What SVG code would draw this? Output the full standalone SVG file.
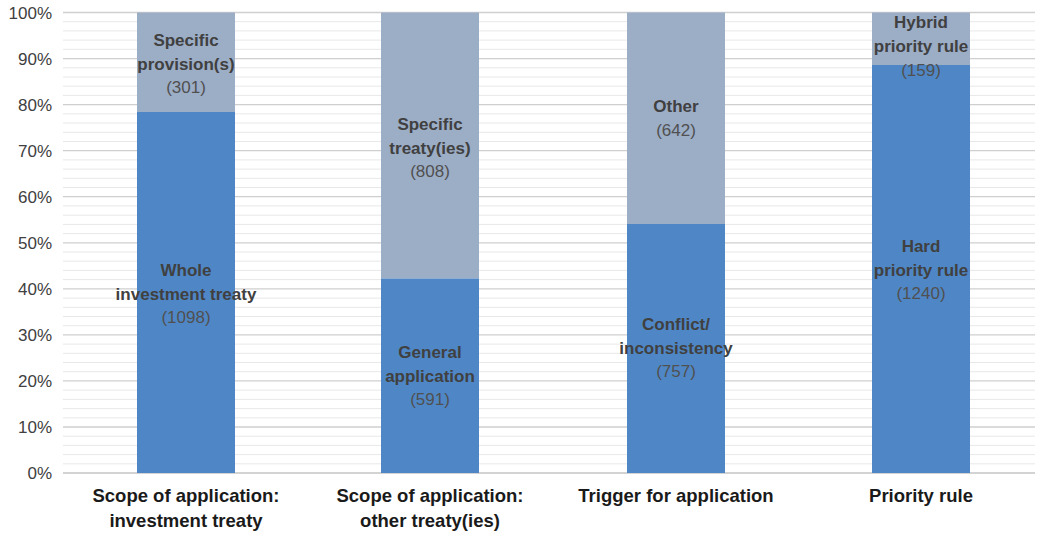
<svg xmlns="http://www.w3.org/2000/svg" width="1041" height="536" viewBox="0 0 1041 536">
<style>
.minor{stroke:#e8e8e8;stroke-width:1}
.major{stroke:#cfcfcf;stroke-width:1.3}
.tick{font-family:"Liberation Sans",Arial,sans-serif;font-size:17px;fill:#404040;text-anchor:end}
.cat{font-family:"Liberation Sans",Arial,sans-serif;font-size:18.5px;font-weight:bold;fill:#1a1a1a;text-anchor:middle}
.lbl{font-family:"Liberation Sans",Arial,sans-serif;font-size:17px;font-weight:bold;fill:#404040;text-anchor:middle}
.num{font-family:"Liberation Sans",Arial,sans-serif;font-size:17px;fill:#505050;text-anchor:middle}
.lo{fill:#4f87c6}
.up{fill:#9cadc6}
</style>
<rect width="1041" height="536" fill="#ffffff"/>
<g id="grid">
<g id="minor-lines">
<line class="minor" x1="63" x2="1035" y1="21.7" y2="21.7"/><line class="minor" x1="63" x2="1035" y1="30.9" y2="30.9"/><line class="minor" x1="63" x2="1035" y1="40.1" y2="40.1"/><line class="minor" x1="63" x2="1035" y1="49.3" y2="49.3"/>
<line class="minor" x1="63" x2="1035" y1="67.8" y2="67.8"/><line class="minor" x1="63" x2="1035" y1="77" y2="77"/><line class="minor" x1="63" x2="1035" y1="86.2" y2="86.2"/><line class="minor" x1="63" x2="1035" y1="95.4" y2="95.4"/>
<line class="minor" x1="63" x2="1035" y1="113.8" y2="113.8"/><line class="minor" x1="63" x2="1035" y1="123" y2="123"/><line class="minor" x1="63" x2="1035" y1="132.3" y2="132.3"/><line class="minor" x1="63" x2="1035" y1="141.5" y2="141.5"/>
<line class="minor" x1="63" x2="1035" y1="159.9" y2="159.9"/><line class="minor" x1="63" x2="1035" y1="169.1" y2="169.1"/><line class="minor" x1="63" x2="1035" y1="178.3" y2="178.3"/><line class="minor" x1="63" x2="1035" y1="187.5" y2="187.5"/>
<line class="minor" x1="63" x2="1035" y1="205.9" y2="205.9"/><line class="minor" x1="63" x2="1035" y1="215.2" y2="215.2"/><line class="minor" x1="63" x2="1035" y1="224.4" y2="224.4"/><line class="minor" x1="63" x2="1035" y1="233.6" y2="233.6"/>
<line class="minor" x1="63" x2="1035" y1="252" y2="252"/><line class="minor" x1="63" x2="1035" y1="261.2" y2="261.2"/><line class="minor" x1="63" x2="1035" y1="270.4" y2="270.4"/><line class="minor" x1="63" x2="1035" y1="279.6" y2="279.6"/>
<line class="minor" x1="63" x2="1035" y1="298.1" y2="298.1"/><line class="minor" x1="63" x2="1035" y1="307.3" y2="307.3"/><line class="minor" x1="63" x2="1035" y1="316.5" y2="316.5"/><line class="minor" x1="63" x2="1035" y1="325.7" y2="325.7"/>
<line class="minor" x1="63" x2="1035" y1="344.1" y2="344.1"/><line class="minor" x1="63" x2="1035" y1="353.3" y2="353.3"/><line class="minor" x1="63" x2="1035" y1="362.5" y2="362.5"/><line class="minor" x1="63" x2="1035" y1="371.7" y2="371.7"/>
<line class="minor" x1="63" x2="1035" y1="390.1" y2="390.1"/><line class="minor" x1="63" x2="1035" y1="399.4" y2="399.4"/><line class="minor" x1="63" x2="1035" y1="408.6" y2="408.6"/><line class="minor" x1="63" x2="1035" y1="417.8" y2="417.8"/>
<line class="minor" x1="63" x2="1035" y1="436.2" y2="436.2"/><line class="minor" x1="63" x2="1035" y1="445.4" y2="445.4"/><line class="minor" x1="63" x2="1035" y1="454.6" y2="454.6"/><line class="minor" x1="63" x2="1035" y1="463.8" y2="463.8"/>
</g>
<g id="major-lines">
<line class="major" x1="63" x2="1035" y1="12.5" y2="12.5"/>
<line class="major" x1="63" x2="1035" y1="58.6" y2="58.6"/>
<line class="major" x1="63" x2="1035" y1="104.6" y2="104.6"/>
<line class="major" x1="63" x2="1035" y1="150.7" y2="150.7"/>
<line class="major" x1="63" x2="1035" y1="196.7" y2="196.7"/>
<line class="major" x1="63" x2="1035" y1="242.8" y2="242.8"/>
<line class="major" x1="63" x2="1035" y1="288.8" y2="288.8"/>
<line class="major" x1="63" x2="1035" y1="334.9" y2="334.9"/>
<line class="major" x1="63" x2="1035" y1="380.9" y2="380.9"/>
<line class="major" x1="63" x2="1035" y1="427" y2="427"/>
<line x1="63" x2="1035" y1="473" y2="473" stroke="#c4c4c4" stroke-width="1.5"/>
</g>
</g>
<g id="y-axis">
<text class="tick" x="52" y="18.5">100%</text>
<text class="tick" x="52" y="64.6">90%</text>
<text class="tick" x="52" y="110.6">80%</text>
<text class="tick" x="52" y="156.7">70%</text>
<text class="tick" x="52" y="202.7">60%</text>
<text class="tick" x="52" y="248.8">50%</text>
<text class="tick" x="52" y="294.8">40%</text>
<text class="tick" x="52" y="340.9">30%</text>
<text class="tick" x="52" y="386.9">20%</text>
<text class="tick" x="52" y="433">10%</text>
<text class="tick" x="52" y="479">0%</text>
</g>
<g id="bar1">
<rect class="up" x="137" y="12.5" width="98" height="99.5"/>
<rect class="lo" x="137" y="112" width="98" height="361"/>
<text class="lbl" x="186" y="46">Specific</text>
<text class="lbl" x="186" y="69.5">provision(s)</text>
<text class="num" x="186" y="93">(301)</text>
<text class="lbl" x="186" y="276">Whole</text>
<text class="lbl" x="186" y="299.5">investment treaty</text>
<text class="num" x="186" y="323">(1098)</text>
</g>
<g id="bar2">
<rect class="up" x="381" y="12.5" width="98" height="266"/>
<rect class="lo" x="381" y="278.5" width="98" height="194.5"/>
<text class="lbl" x="430" y="130">Specific</text>
<text class="lbl" x="430" y="153.5">treaty(ies)</text>
<text class="num" x="430" y="177">(808)</text>
<text class="lbl" x="430" y="358">General</text>
<text class="lbl" x="430" y="381.5">application</text>
<text class="num" x="430" y="405">(591)</text>
</g>
<g id="bar3">
<rect class="up" x="627" y="12.5" width="98" height="211.5"/>
<rect class="lo" x="627" y="224" width="98" height="249"/>
<text class="lbl" x="676" y="112">Other</text>
<text class="num" x="676" y="136">(642)</text>
<text class="lbl" x="676" y="330">Conflict/</text>
<text class="lbl" x="676" y="353.5">inconsistency</text>
<text class="num" x="676" y="377">(757)</text>
</g>
<g id="bar4">
<rect class="up" x="872" y="12.5" width="98" height="52.5"/>
<rect class="lo" x="872" y="65" width="98" height="408"/>
<text class="lbl" x="921" y="28">Hybrid</text>
<text class="lbl" x="921" y="51.5">priority rule</text>
<text class="num" x="921" y="76">(159)</text>
<text class="lbl" x="921" y="252">Hard</text>
<text class="lbl" x="921" y="275.5">priority rule</text>
<text class="num" x="921" y="299">(1240)</text>
</g>
<g id="x-axis">
<text class="cat" x="186" y="502">Scope of application:</text>
<text class="cat" x="186" y="527">investment treaty</text>
<text class="cat" x="430" y="502">Scope of application:</text>
<text class="cat" x="430" y="527">other treaty(ies)</text>
<text class="cat" x="676" y="502">Trigger for application</text>
<text class="cat" x="921" y="502">Priority rule</text>
</g>
<g id="connectors"/>
</svg>
